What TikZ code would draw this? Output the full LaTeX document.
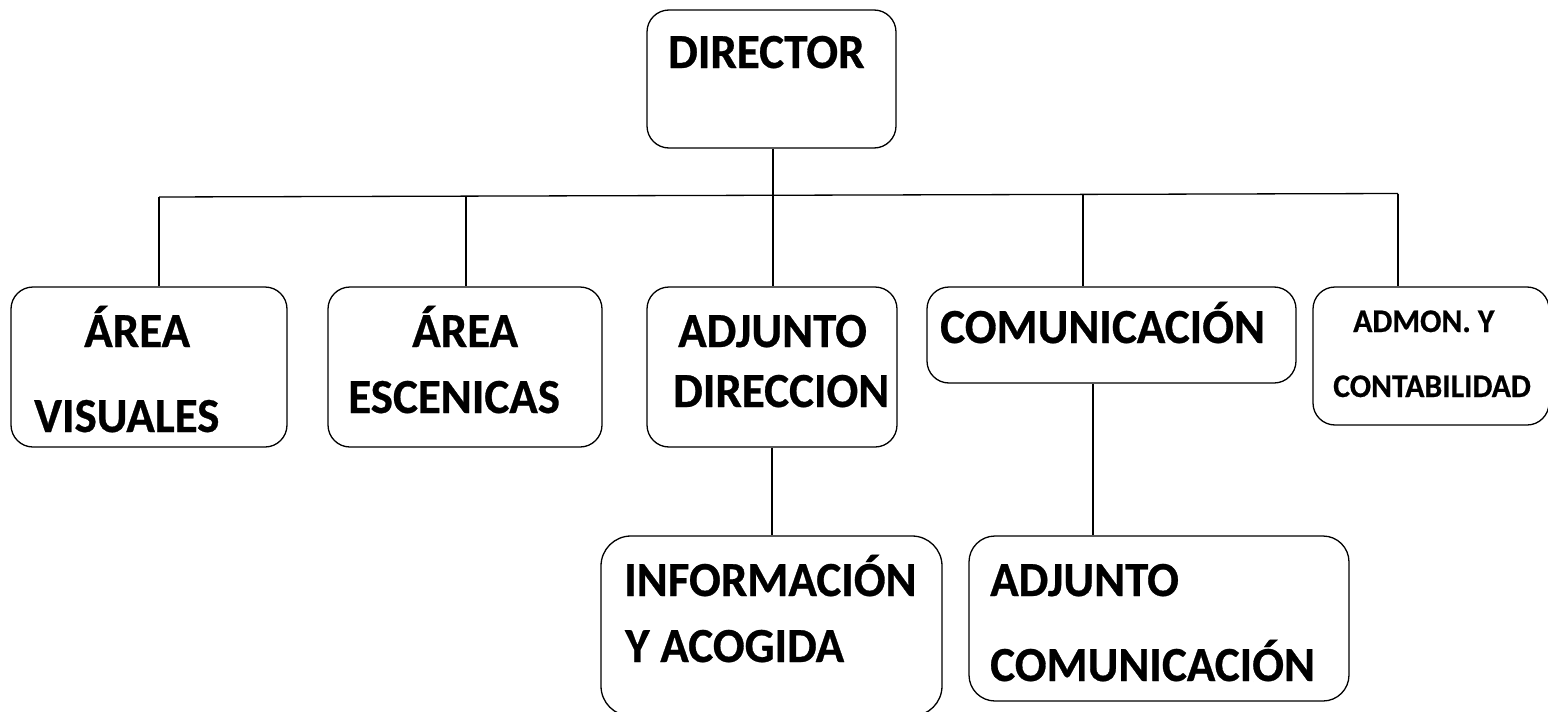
\documentclass[tikz,border=0pt]{standalone}
\usepackage{fontspec}
\setmainfont{Carlito}[BoldFeatures={FakeStretch=0.96,FakeBold=0.6}]
\begin{document}
\begin{tikzpicture}[yscale=-1
,pstyle0/.style={draw=black,line width=1.3pt,rounded corners=22pt,inner sep=0,fill=white}
,pstyle1/.style={anchor=base west,inner sep=0,color=black,font=\fontsize{49pt}{53pt}\selectfont\bfseries}
,pstyle2/.style={anchor=base west,inner sep=0,color=black,font=\fontsize{33pt}{36pt}\selectfont\bfseries}
,pstyle3/.style={color=black,line width=1.3pt}
]
\useasboundingbox (0pt,0pt) rectangle (1548pt,712pt);
% boxes
\node[pstyle0,minimum width=249pt,minimum height=138pt] (director) at (771.5pt,79pt) {};
\node[pstyle0,minimum width=276pt,minimum height=160pt] (visuales) at (149pt,367pt) {};
\node[pstyle0,minimum width=274pt,minimum height=160pt] (escenicas) at (465pt,367pt) {};
\node[pstyle0,minimum width=250pt,minimum height=160pt] (adjdir) at (772pt,367pt) {};
\node[pstyle0,minimum width=369pt,minimum height=96pt] (comunic) at (1111.5pt,335pt) {};
\node[pstyle0,minimum width=236pt,minimum height=138pt] (admon) at (1431pt,356pt) {};
\node[pstyle0,minimum width=341pt,minimum height=180pt,rounded corners=30pt] (informa) at (771.5pt,626pt) {};
\node[pstyle0,minimum width=380pt,minimum height=165pt,rounded corners=26pt] (adjcom) at (1159pt,618.5pt) {};
% texts
\node[pstyle1] (tdirector) at (668pt,68pt) {DIRECTOR};
\node[pstyle1] (tarea1) at (84pt,347pt) {ÁREA};
\node[pstyle1] (tvisuales) at (34pt,432pt) {VISUALES};
\node[pstyle1] (tarea2) at (412pt,347pt) {ÁREA};
\node[pstyle1] (tescenicas) at (348pt,413pt) {ESCENICAS};
\node[pstyle1] (tadjunto1) at (678pt,347pt) {ADJUNTO};
\node[pstyle1] (tdireccion) at (673pt,407pt) {DIRECCION};
\node[pstyle1] (tcomunic1) at (940pt,343pt) {COMUNICACIÓN};
\node[pstyle2] (tadmon) at (1353pt,332pt) {ADMON. Y};
\node[pstyle2] (tcontab) at (1333pt,397pt) {CONTABILIDAD};
\node[pstyle1] (tinforma) at (624pt,596pt) {INFORMACIÓN};
\node[pstyle1] (tacogida) at (625pt,662pt) {Y ACOGIDA};
\node[pstyle1] (tadjunto2) at (990pt,596pt) {ADJUNTO};
\node[pstyle1] (tcomunic2) at (990pt,681pt) {COMUNICACIÓN};
% bus
\coordinate (b1) at (159pt,197pt);
\coordinate (b2) at (466pt,196.1pt);
\coordinate (b3) at (773pt,195.3pt);
\coordinate (b4) at (1083pt,194.4pt);
\coordinate (b5) at (1398pt,193.5pt);
\draw[pstyle3] (b1) -- (b5);
\draw[pstyle3] (director.south -| b3) -- (b3);
\draw[pstyle3] (b1) -- (b1 |- visuales.north);
\draw[pstyle3] (b2) -- (b2 |- escenicas.north);
\draw[pstyle3] (b3) -- (b3 |- adjdir.north);
\draw[pstyle3] (b4) -- (b4 |- comunic.north);
\draw[pstyle3] (b5) -- (b5 |- admon.north);
\draw[pstyle3] (adjdir.south) -- (adjdir.south |- informa.north);
\draw[pstyle3] ([xshift=-18.5pt]comunic.south) -- ([xshift=-18.5pt]comunic.south |- adjcom.north);
\end{tikzpicture}
\end{document}
